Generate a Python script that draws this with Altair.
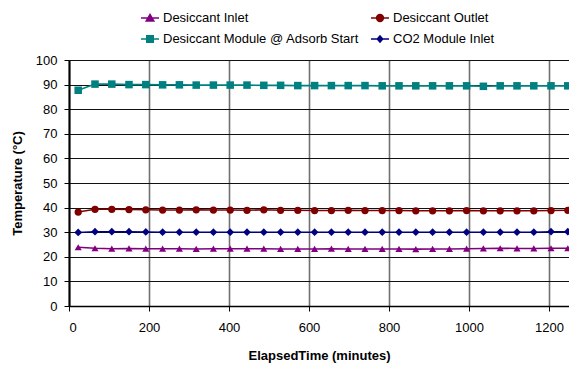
import altair as alt
import pandas as pd

series_names = ["Desiccant Inlet", "Desiccant Outlet",
                "Desiccant Module @ Adsorb Start", "CO2 Module Inlet"]
series_colors = ["#800080", "#800000", "#008080", "#000080"]
point_shapes = ["triangle-up", "circle", "square", "diamond"]
point_sizes = [50, 60, 56, 45]
legend_shapes = [
    "M-1,0H1M0,-0.4L0.42,0.32H-0.42Z",
    "M-1,0H1M0.38,0A0.38,0.38 0 1,1 -0.38,0A0.38,0.38 0 1,1 0.38,0Z",
    "M-1,0H1M-0.36,-0.36H0.36V0.36H-0.36Z",
    "M-1,0H1M0,-0.34L0.3,0L0,0.34L-0.3,0Z",
]
# legend entries are laid out column by column
legend_order = [0, 2, 1, 3]

times = [23, 65, 107, 150, 192, 234, 276, 318, 361, 403, 445, 487, 529, 572, 614,
         656, 698, 740, 783, 825, 867, 909, 951, 994, 1036, 1078, 1120, 1162, 1205, 1247]
desiccant_inlet = [23.9, 23.5, 23.3, 23.4, 23.3, 23.3, 23.3, 23.2, 23.3, 23.3, 23.3, 23.3,
                   23.2, 23.2, 23.2, 23.3, 23.2, 23.2, 23.2, 23.2, 23.1, 23.2, 23.2, 23.3,
                   23.4, 23.5, 23.4, 23.4, 23.5, 23.5]
desiccant_outlet = [38.2, 39.3, 39.3, 39.2, 39.1, 39.0, 39.0, 39.1, 39.0, 39.0, 38.9, 39.1,
                    38.9, 38.9, 38.8, 38.8, 38.9, 38.8, 38.8, 38.8, 38.7, 38.7, 38.7, 38.8,
                    38.7, 38.7, 38.7, 38.7, 38.8, 38.9]
module_adsorb = [87.7, 90.2, 90.2, 90.0, 90.0, 89.9, 89.9, 89.8, 89.8, 89.8, 89.8, 89.7,
                 89.7, 89.6, 89.6, 89.6, 89.6, 89.6, 89.5, 89.5, 89.5, 89.5, 89.5, 89.5,
                 89.3, 89.5, 89.5, 89.5, 89.5, 89.5]
co2_inlet = [29.9, 30.2, 30.2, 30.2, 30.1, 30.0, 30.0, 30.0, 30.0, 30.0, 30.0, 30.0, 30.0,
             30.0, 30.0, 30.0, 30.0, 30.0, 30.0, 30.0, 30.0, 30.0, 30.0, 30.0, 30.0, 30.0,
             30.0, 30.0, 30.2, 30.2]

x_ticks = [0, 200, 400, 600, 800, 1000, 1200]
y_ticks = [0, 10, 20, 30, 40, 50, 60, 70, 80, 90, 100]

rows = []
for name, vals in zip(series_names, [desiccant_inlet, desiccant_outlet, module_adsorb, co2_inlet]):
    for t, v in zip(times, vals):
        rows.append({"time": t, "temp": v, "series": name})
df = pd.DataFrame(rows)

FONT = "Liberation Sans"

x_enc = alt.X("time:Q", scale=alt.Scale(domain=[0, 1250], nice=False, zero=False),
              axis=alt.Axis(values=x_ticks, title="ElapsedTime (minutes)", format="d",
                            grid=True, gridColor="#707070", gridWidth=1.6,
                            domainColor="black", domainWidth=1.5,
                            tickColor="black", tickSize=5, labelPadding=10,
                            titlePadding=15))
y_enc = alt.Y("temp:Q", scale=alt.Scale(domain=[0, 100], nice=False),
              axis=alt.Axis(values=y_ticks, title="Temperature (°C)", format="d",
                            grid=True, gridColor="#111111", gridWidth=1,
                            domainColor="black", domainWidth=2,
                            tickColor="black", tickSize=5, labelPadding=7,
                            titlePadding=11))
color_enc = alt.Color("series:N", scale=alt.Scale(domain=series_names, range=series_colors),
                      legend=None)

lines = alt.Chart(df).mark_line(strokeWidth=1.6).encode(x=x_enc, y=y_enc, color=color_enc)

points = alt.Chart(df).mark_point(filled=True, opacity=1).encode(
    x=x_enc, y=y_enc, color=color_enc,
    shape=alt.Shape("series:N", scale=alt.Scale(domain=series_names, range=point_shapes),
                    legend=None),
    size=alt.Size("series:N", scale=alt.Scale(domain=series_names, range=point_sizes),
                  legend=None),
)

leg_domain = [series_names[i] for i in legend_order]
leg_colors = [series_colors[i] for i in legend_order]
leg_shapes = [legend_shapes[i] for i in legend_order]

leg_props = dict(title=None, orient="none", legendX=71, legendY=-52, columns=2,
                 columnPadding=8, rowPadding=4, symbolSize=324, symbolStrokeWidth=1.5,
                 symbolOpacity=1, labelFont=FONT, labelFontSize=13, labelColor="black",
                 labelOffset=3, labelLimit=400)

legend_layer = alt.Chart(df).transform_filter("false").mark_point(
    filled=True, opacity=1, strokeWidth=1.5).encode(
    fill=alt.Fill("series:N", scale=alt.Scale(domain=leg_domain, range=leg_colors),
                  legend=alt.Legend(**leg_props)),
    stroke=alt.Stroke("series:N", scale=alt.Scale(domain=leg_domain, range=leg_colors),
                      legend=alt.Legend(**leg_props)),
    shape=alt.Shape("series:N", scale=alt.Scale(domain=leg_domain, range=leg_shapes),
                    legend=alt.Legend(**leg_props)),
)

chart = alt.layer(lines, points, legend_layer).resolve_scale(
    shape="independent", fill="independent", stroke="independent"
).properties(
    width=500, height=246,
    padding={"left": 69, "top": 60, "right": 0, "bottom": 63},
    autosize=alt.AutoSizeParams(type="none"),
    background="white",
).configure_view(stroke=None).configure_axis(
    labelFont=FONT, labelFontSize=13, labelColor="black",
    titleFont=FONT, titleFontSize=13, titleFontWeight="bold", titleColor="black",
)

chart.save("out.html", embed_options={"renderer": "svg", "actions": False})
